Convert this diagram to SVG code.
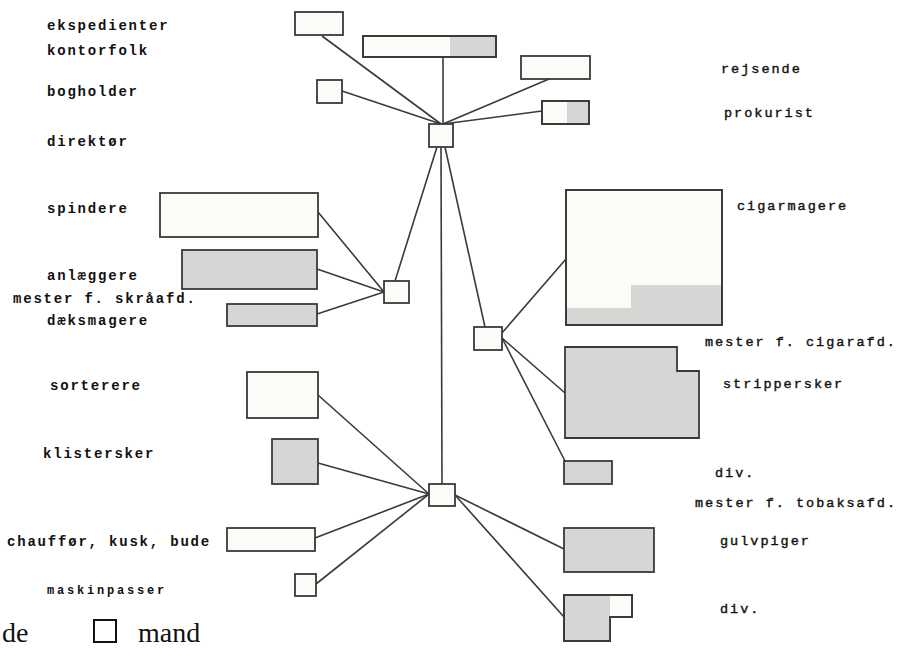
<svg xmlns="http://www.w3.org/2000/svg" width="899" height="668" viewBox="0 0 899 668">
<style>
.box{fill:#fbfbf8;stroke:#3a3a3a;stroke-width:1.8}
.sh{fill:#d6d6d4;stroke:none}
.out{fill:none;stroke:#3a3a3a;stroke-width:1.8}
.shbox{fill:#d6d6d4;stroke:#3a3a3a;stroke-width:1.8}
.lbl{font-family:"Liberation Mono",monospace;font-weight:bold;font-size:14px;letter-spacing:1.8px;fill:#111}
.rl{font-family:"Liberation Mono",monospace;font-size:13.5px;letter-spacing:2px;fill:#111;stroke:#111;stroke-width:0.4}
.sm{font-family:"Liberation Mono",monospace;font-weight:bold;font-size:12px;letter-spacing:2.8px;fill:#111}
.leg{font-family:"Liberation Serif",serif;font-size:28px;fill:#111}
#connectors line{stroke:#3a3a3a;stroke-width:1.6}
</style>
<rect width="899" height="668" fill="#fff"/>
<g id="connectors">
<line x1="322" y1="36" x2="441" y2="124"/>
<line x1="443" y1="57" x2="443" y2="124"/>
<line x1="342" y1="91" x2="441" y2="124"/>
<line x1="549" y1="79" x2="443" y2="124"/>
<line x1="542" y1="111" x2="443" y2="124"/>
<line x1="437" y1="147" x2="395" y2="281"/>
<line x1="441" y1="147" x2="442" y2="484"/>
<line x1="445" y1="147" x2="485" y2="327"/>
<line x1="318" y1="212" x2="384" y2="292"/>
<line x1="317" y1="269" x2="384" y2="292"/>
<line x1="317" y1="314" x2="384" y2="292"/>
<line x1="502" y1="333" x2="566" y2="259"/>
<line x1="502" y1="338" x2="565" y2="393"/>
<line x1="502" y1="338" x2="565" y2="461"/>
<line x1="318" y1="395" x2="429" y2="494"/>
<line x1="318" y1="463" x2="429" y2="494"/>
<line x1="315" y1="538" x2="429" y2="494"/>
<line x1="316" y1="584" x2="429" y2="494"/>
<line x1="455" y1="495" x2="564" y2="549"/>
<line x1="455" y1="495" x2="564" y2="617"/>
</g>
<g id="n-ekspedienter"><rect class="box" x="295" y="12" width="48" height="23"/><text class="lbl" x="47" y="30">ekspedienter</text></g>
<g id="n-kontorfolk"><rect class="box" x="363" y="36" width="133" height="21"/><rect class="sh" x="450" y="37" width="45" height="19"/><rect class="out" x="363" y="36" width="133" height="21"/><text class="lbl" x="47" y="55">kontorfolk</text></g>
<g id="n-bogholder"><rect class="box" x="317" y="80" width="25" height="23"/><text class="lbl" x="47" y="96">bogholder</text></g>
<g id="n-direktor"><rect class="box" x="429" y="124" width="24" height="23"/><text class="lbl" x="47" y="146">direktør</text></g>
<g id="n-rejsende"><rect class="box" x="521" y="56" width="69" height="23"/><text class="rl" x="721" y="73">rejsende</text></g>
<g id="n-prokurist"><rect class="box" x="542" y="101" width="47" height="23"/><rect class="sh" x="567" y="102" width="21" height="21"/><rect class="out" x="542" y="101" width="47" height="23"/><text class="rl" x="724" y="117">prokurist</text></g>
<g id="n-spindere"><rect class="box" x="160" y="193" width="158" height="44"/><text class="lbl" x="47" y="213">spindere</text></g>
<g id="n-anlaeggere"><rect class="shbox" x="182" y="250" width="135" height="39"/><text class="lbl" x="47" y="280">anlæggere</text></g>
<g id="n-mester-skra"><rect class="box" x="384" y="281" width="25" height="22"/><text class="lbl" x="13" y="303">mester f. skråafd.</text></g>
<g id="n-daeksmagere"><rect class="shbox" x="227" y="304" width="90" height="22"/><text class="lbl" x="47" y="325">dæksmagere</text></g>
<g id="n-mester-cigar"><rect class="box" x="474" y="327" width="28" height="23"/><text class="rl" x="705" y="346">mester f. cigarafd.</text></g>
<g id="n-cigarmagere"><rect class="box" x="566" y="190" width="156" height="135"/><polygon class="sh" points="567,308 631,308 631,285 721,285 721,324 567,324"/><rect class="out" x="566" y="190" width="156" height="135"/><text class="rl" x="737" y="210">cigarmagere</text></g>
<g id="n-strippersker"><polygon class="shbox" points="565,347 677,347 677,371 699,371 699,438 565,438"/><text class="rl" x="723" y="388">strippersker</text></g>
<g id="n-div1"><rect class="shbox" x="564" y="461" width="48" height="23"/><text class="rl" x="715" y="477">div.</text></g>
<g id="n-sorterere"><rect class="box" x="247" y="372" width="71" height="46"/><text class="lbl" x="50" y="390">sorterere</text></g>
<g id="n-klistersker"><rect class="shbox" x="272" y="439" width="46" height="45"/><text class="lbl" x="43" y="458">klistersker</text></g>
<g id="n-mester-tobak"><rect class="box" x="429" y="484" width="26" height="22"/><text class="rl" x="695" y="507">mester f. tobaksafd.</text></g>
<g id="n-chauffor"><rect class="box" x="227" y="528" width="88" height="23"/><text class="lbl" x="7" y="546">chauffør, kusk, bude</text></g>
<g id="n-maskinpasser"><rect class="box" x="295" y="574" width="21" height="22"/><text class="sm" x="47" y="594">maskinpasser</text></g>
<g id="n-gulvpiger"><rect class="shbox" x="564" y="528" width="90" height="44"/><text class="rl" x="720" y="545">gulvpiger</text></g>
<g id="n-div2"><polygon class="box" points="564,595 632,595 632,617 610,617 610,641 564,641"/><polygon class="sh" points="565,596 610,596 610,640 565,640"/><polygon class="out" points="564,595 632,595 632,617 610,617 610,641 564,641"/><text class="rl" x="720" y="613">div.</text></g>
<g id="legend">
<text class="leg" x="2" y="642">de</text>
<rect x="94" y="620" width="22" height="22" fill="#fff" stroke="#111" stroke-width="2"/>
<text class="leg" x="138" y="642">mand</text>
</g>
</svg>
